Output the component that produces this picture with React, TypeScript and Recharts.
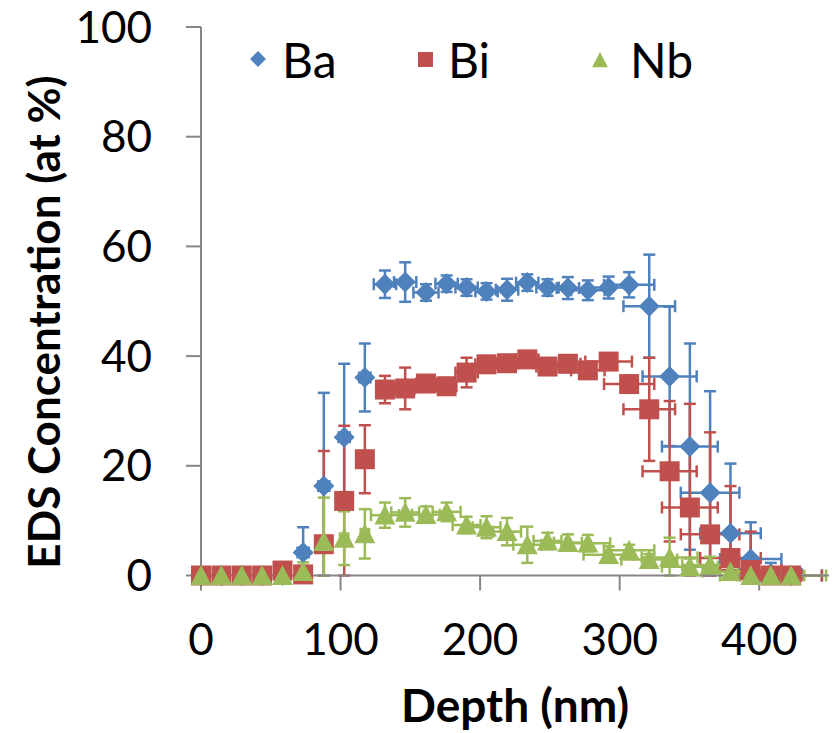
import React from 'react';
import { ScatterChart, Scatter, XAxis, YAxis, ErrorBar, Legend } from 'recharts';

const depth = [0, 14.6, 29.2, 43.8, 58.4, 73.2, 88, 102.6, 117.4, 131.8, 146.3, 161.2, 176, 190.3, 204.6, 219.3, 233.8, 248.3, 262.9, 277.2, 292.1, 306.8, 321.2, 335.8, 350.3, 364.8, 379.4, 393.9, 408.3, 422.9];

const ba = [0, 0, 0, 0, 0, 4.2, 16.3, 25.2, 36.1, 53.1, 53.5, 51.6, 53.2, 52.5, 51.8, 52.1, 53.4, 52.5, 52.4, 52.0, 52.5, 53.0, 49.1, 36.3, 23.5, 15.1, 7.7, 3.0, 0.3, 0];
const baErrY = [0, 0, 0, 0, 0, 4.6, 17, 13.4, 6.2, 2.5, 3.6, 1.5, 1.5, 1.5, 1.5, 2.0, 1.5, 1.5, 2.0, 1.8, 2.0, 2.3, 9.4, 12.7, 18.8, 18.5, 12.7, 6.7, 2, 0];
const baErrX = [0, 0, 0, 0, 0, 4, 4, 4, 4, 8, 8, 9, 8, 8, 8, 8, 8, 8, 8, 12, 14, 18, 18.5, 19.4, 20, 21, 21.7, 22, 22, 22];

const bi = [0, 0, 0, 0, 0.9, 0.2, 5.7, 13.6, 21.2, 33.9, 34.1, 35.0, 34.5, 37.0, 38.5, 38.7, 39.4, 38.1, 38.6, 37.4, 39.0, 34.9, 30.3, 19.0, 12.4, 7.5, 3.2, 1.0, 0, 0];
const biErrY = [0, 0, 0, 0, 0.5, 0.5, 17, 13.7, 6.2, 2.5, 3.8, 1.5, 1.5, 2.7, 1.5, 1.0, 1.2, 1.0, 1.5, 1.5, 1.3, 1.5, 9.4, 12.8, 18.9, 18.6, 13.1, 7.0, 1.0, 0];
const biErrX = [0, 0, 0, 0, 3, 3, 4, 4, 4, 6, 7, 7, 7, 8, 8, 8, 8, 8, 9, 12, 16.7, 18, 18.5, 19.4, 20, 21, 21.7, 22, 22, 22];

const nb = [0, 0, 0, 0, 0, 0.7, 6.2, 6.8, 7.6, 11.0, 11.5, 11.1, 11.6, 9.2, 8.8, 8.0, 5.6, 6.3, 6.0, 5.9, 3.8, 4.6, 2.9, 3.3, 1.6, 1.9, 0.7, 0, 0, 0];
const nbErrY = [0, 0, 0, 0, 0, 1.7, 8, 4.9, 4.5, 2.3, 2.6, 1.5, 1.7, 1.5, 2.0, 2.5, 3.3, 1.5, 1.5, 1.5, 1.5, 1.0, 1.0, 3.6, 1.5, 1.5, 1.0, 0, 0, 0];
const nbErrX = [0, 0, 0, 0, 0, 3, 3, 3, 3, 10, 10, 10, 10, 10, 10, 10, 10, 10, 10, 16, 18, 18, 20, 20, 20, 20, 20, 22, 24, 25];

const xTicks = [0, 100, 200, 300, 400];
const yTicks = [0, 20, 40, 60, 80, 100];

const BA = '#4F81BD';
const BI = '#C0504D';
const NB = '#9BBB59';
const AXIS = '#868686';
const FONT = 'Lato, "Open Sans", sans-serif';

// error bars are clipped at the x axis like the original plot area does
const build = (vals: number[], ey: number[], ex: number[]) =>
  depth.map((d, i) => ({
    x: d,
    y: vals[i],
    ey: [Math.min(ey[i], vals[i]), ey[i]],
    ex: [Math.min(ex[i], d), ex[i]],
  }));

const baData = build(ba, baErrY, baErrX);
const biData = build(bi, biErrY, biErrX);
const nbData = build(nb, nbErrY, nbErrX);

const diamond = (cx: number, cy: number, r: number) =>
  `M${cx},${cy - r}L${cx + r},${cy}L${cx},${cy + r}L${cx - r},${cy}Z`;
const triangle = (cx: number, cy: number, r: number) =>
  `M${cx},${cy - r}L${cx + r},${cy + r * 0.9}L${cx - r},${cy + r * 0.9}Z`;

const DiamondShape = (p: any) => <path d={diamond(p.cx, p.cy, 10.5)} fill={BA} />;
const SquareShape = (p: any) => <rect x={p.cx - 10} y={p.cy - 10} width={20} height={20} fill={BI} />;
const TriangleShape = (p: any) => <path d={triangle(p.cx, p.cy, 10.5)} fill={NB} />;

const renderLegend = () => (
  <svg width={480} height={70} style={{ display: 'block' }}>
    <path d={diamond(14, 35, 8)} fill={BA} />
    <text x={38} y={35} dominantBaseline="central" fontSize={48} fontFamily={FONT} fill="#000">Ba</text>
    <rect x={174} y={28} width={15} height={15} fill={BI} />
    <text x={204} y={35} dominantBaseline="central" fontSize={48} fontFamily={FONT} fill="#000">Bi</text>
    <path d={triangle(356, 36, 8)} fill={NB} />
    <text x={386} y={35} dominantBaseline="central" fontSize={48} fontFamily={FONT} fill="#000">Nb</text>
  </svg>
);

const tickStyle = { fill: '#000', fontSize: 44, fontFamily: FONT };

export default function App() {
  return (
    <div style={{ position: 'absolute', left: 0, top: 0, width: 837, height: 733, background: '#fff' }}>
      <ScatterChart width={837} height={733} margin={{ top: 27, right: 8, bottom: 0, left: 0 }}>
        <XAxis
          type="number"
          dataKey="x"
          domain={[0, 450]}
          ticks={xTicks}
          tickSize={15}
          tickMargin={33}
          height={157.5}
          axisLine={{ stroke: AXIS, strokeWidth: 2 }}
          tickLine={{ stroke: AXIS, strokeWidth: 2 }}
          tick={tickStyle}
          label={{
            content: (props: any) => {
              const vb = props.viewBox;
              return (
                <text x={vb.x + vb.width / 2} y={722} textAnchor="middle"
                  fontSize={46} fontWeight="bold" fontFamily={FONT} fill="#000">Depth (nm)</text>
              );
            },
          }}
        />
        <YAxis
          type="number"
          dataKey="y"
          domain={[0, 100]}
          ticks={yTicks}
          width={201}
          tickSize={15}
          tickMargin={34}
          axisLine={{ stroke: AXIS, strokeWidth: 2 }}
          tickLine={{ stroke: AXIS, strokeWidth: 2 }}
          tick={tickStyle}
          label={{
            content: () => (
              <text transform="translate(43,322) rotate(-90)" textAnchor="middle" dominantBaseline="central"
                fontSize={44} fontWeight="bold" fontFamily={FONT} fill="#000">EDS Concentration (at %)</text>
            ),
          }}
        />
        <Legend verticalAlign="middle" align="center" wrapperStyle={{ top: 24, left: 244, width: 480 }} content={renderLegend} />
        <Scatter name="Ba" data={baData} fill={BA} shape={DiamondShape} isAnimationActive={false}>
          <ErrorBar dataKey="ey" direction="y" width={6} stroke={BA} strokeWidth={2.5} />
          <ErrorBar dataKey="ex" direction="x" width={6} stroke={BA} strokeWidth={2.5} />
        </Scatter>
        <Scatter name="Bi" data={biData} fill={BI} shape={SquareShape} isAnimationActive={false}>
          <ErrorBar dataKey="ey" direction="y" width={6} stroke={BI} strokeWidth={2.5} />
          <ErrorBar dataKey="ex" direction="x" width={6} stroke={BI} strokeWidth={2.5} />
        </Scatter>
        <Scatter name="Nb" data={nbData} fill={NB} shape={TriangleShape} isAnimationActive={false}>
          <ErrorBar dataKey="ey" direction="y" width={6} stroke={NB} strokeWidth={2.5} />
          <ErrorBar dataKey="ex" direction="x" width={6} stroke={NB} strokeWidth={2.5} />
        </Scatter>
      </ScatterChart>
    </div>
  );
}
